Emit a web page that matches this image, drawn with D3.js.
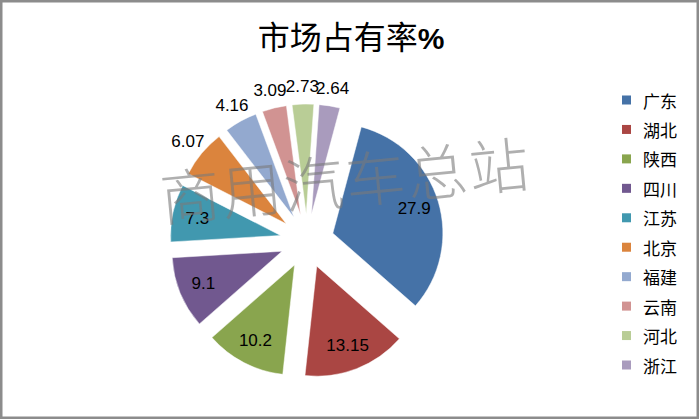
<!DOCTYPE html>
<html>
<head>
<meta charset="utf-8">
<script src="https://cdn.jsdelivr.net/npm/d3@7"></script>
<style>
  html, body { margin: 0; padding: 0; background: #fff; }
  svg { display: block; }
</style>
</head>
<body>
<div id="chart"></div>
<script>
const categories = ["广东", "湖北", "陕西", "四川", "江苏", "北京", "福建", "云南", "河北", "浙江"];
const values = [27.9, 13.15, 10.2, 9.1, 7.3, 6.07, 4.16, 3.09, 2.73, 2.64];
const valueLabels = ["27.9", "13.15", "10.2", "9.1", "7.3", "6.07", "4.16", "3.09", "2.73", "2.64"];
const colors = ["#4572A7", "#AA4643", "#89A54E", "#71588F", "#4198AF", "#DB843D", "#93A9CF", "#D19392", "#B9CD96", "#A99BBD"];
const titleText = "市场占有率";
const watermarkText = "商用汽车总站";

const W = 700, H = 420;
const cx = 307, cy = 241, R = 110, explode = 27;
const startDeg = 15;

const svg = d3.select("#chart").append("svg").attr("width", W).attr("height", H);

// background + border
svg.append("rect").attr("x", 0).attr("y", 0).attr("width", W).attr("height", H).attr("fill", "#fff");
svg.append("rect").attr("x", 1.25).attr("y", 1.25).attr("width", W - 3.5).attr("height", H - 3.5)
  .attr("fill", "none").attr("stroke", "#8c8c8c").attr("stroke-width", 2.5);

// title
const title = svg.append("text").attr("x", 351).attr("y", 49).attr("text-anchor", "middle")
  .attr("fill", "#000");
title.append("tspan").text(titleText)
  .attr("font-family", "'Noto Sans CJK SC', sans-serif").attr("font-size", 32);
title.append("tspan").text("%")
  .attr("font-family", "'Liberation Sans', Arial, sans-serif").attr("font-size", 30).attr("font-weight", "bold");

const data = categories.map((c, i) => ({ name: c, value: values[i], label: valueLabels[i], color: colors[i] }));

const a0 = startDeg * Math.PI / 180;
const pie = d3.pie().value(d => d.value).sort(null).startAngle(a0).endAngle(a0 + 2 * Math.PI);
const arcs = pie(data);
const arc = d3.arc().innerRadius(0).outerRadius(R);

const g = svg.append("g").attr("transform", `translate(${cx},${cy})`);

function dir(a) { return [Math.sin(a), -Math.cos(a)]; }

g.selectAll("path.slice").data(arcs).enter().append("path")
  .attr("class", "slice")
  .attr("d", arc)
  .attr("fill", d => d.data.color)
  .attr("stroke", "rgba(255,255,255,0.6)")
  .attr("stroke-width", 0.8)
  .attr("transform", d => {
    const m = (d.startAngle + d.endAngle) / 2;
    const [dx, dy] = dir(m);
    return `translate(${dx * explode},${dy * explode})`;
  });

// value labels
g.selectAll("text.val").data(arcs).enter().append("text")
  .attr("class", "val")
  .attr("x", (d, i) => {
    const m = (d.startAngle + d.endAngle) / 2;
    const r = i < 5 ? 112 : 155;
    return dir(m)[0] * r;
  })
  .attr("y", (d, i) => {
    const m = (d.startAngle + d.endAngle) / 2;
    const r = i < 5 ? 112 : 155;
    return dir(m)[1] * r;
  })
  .attr("text-anchor", "middle")
  .attr("dominant-baseline", "central")
  .attr("font-family", "'Liberation Sans', Arial, sans-serif")
  .attr("font-size", 17)
  .attr("fill", "#000")
  .text(d => d.data.label);

// legend
const legend = svg.append("g");
const ly = d3.scalePoint().domain(categories).range([100, 365]);
legend.selectAll("rect").data(data).enter().append("rect")
  .attr("x", 622).attr("y", d => ly(d.name) - 4.5).attr("width", 9).attr("height", 9)
  .attr("fill", d => d.color);
legend.selectAll("text").data(data).enter().append("text")
  .attr("x", 643).attr("y", d => ly(d.name))
  .attr("dominant-baseline", "central")
  .attr("font-family", "'Noto Sans CJK SC', sans-serif")
  .attr("font-size", 17)
  .attr("fill", "#000")
  .text(d => d.name);

// watermark
svg.append("text")
  .attr("transform", "translate(345,177) rotate(-5.5)")
  .attr("text-anchor", "middle")
  .attr("dominant-baseline", "central")
  .attr("font-family", "'Noto Sans CJK SC', sans-serif")
  .attr("font-weight", 300)
  .attr("font-size", 60)
  .attr("letter-spacing", 2)
  .attr("fill", "#7a7a7a")
  .attr("fill-opacity", 0.6)
  .text(watermarkText);
</script>
</body>
</html>
